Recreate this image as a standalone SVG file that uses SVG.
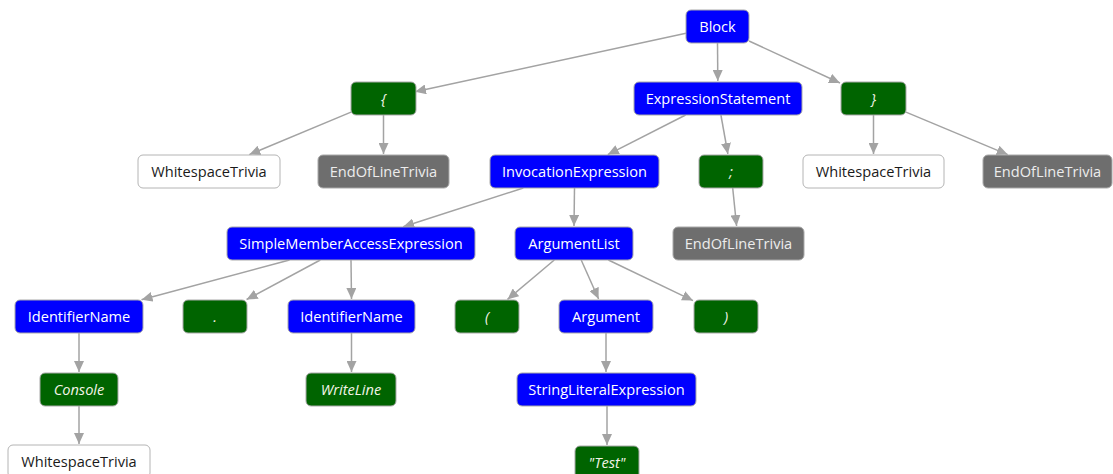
<svg xmlns="http://www.w3.org/2000/svg" width="1113" height="474" viewBox="0 0 1113 474">
<style>
.n rect{stroke:#a9a9a9;stroke-width:1}
.b rect{fill:#0000ff}
.g rect{fill:#006400}
.k rect{fill:#6e6e6e}
.w rect{fill:#ffffff;stroke:#b4b4b4}
text{font-family:"Open Sans","Noto Sans","Liberation Sans",sans-serif;font-size:14.6px;text-anchor:middle;fill:#ffffff}
.g text{font-style:italic;fill:#f4f4e8}
.k text{fill:#ececec}
.w text{fill:#1a1a1a}
#edges line{stroke:#a3a3a3;stroke-width:1.5;fill:none;marker-end:url(#ah)}
</style>
<defs>
<marker id="ah" markerUnits="userSpaceOnUse" markerWidth="12" markerHeight="10" refX="11" refY="5" orient="auto">
<path d="M0,0 L11,5 L0,10 Z" fill="#a3a3a3"/>
</marker>
</defs>
<rect width="1113" height="474" fill="#ffffff"/>
<g id="edges">
<line x1="686" y1="33.3" x2="415" y2="91.7"/>
<line x1="717.5" y1="43" x2="717.8" y2="81"/>
<line x1="749" y1="41" x2="840" y2="83"/>
<line x1="351" y1="112.1" x2="249.3" y2="154.6"/>
<line x1="383.5" y1="115" x2="383.5" y2="154"/>
<line x1="685.6" y1="115" x2="607.8" y2="154.6"/>
<line x1="720.9" y1="115" x2="727.9" y2="154"/>
<line x1="873.5" y1="115" x2="873.5" y2="154"/>
<line x1="906" y1="112.1" x2="1007.7" y2="154.6"/>
<line x1="523.3" y1="188" x2="403.2" y2="226.7"/>
<line x1="574.5" y1="188" x2="574" y2="226"/>
<line x1="732.7" y1="188" x2="736.6" y2="226"/>
<line x1="289.5" y1="260" x2="141.5" y2="299.7"/>
<line x1="320.3" y1="260" x2="246.6" y2="299.5"/>
<line x1="351" y1="260" x2="351.5" y2="299"/>
<line x1="554.3" y1="260" x2="507.5" y2="299.4"/>
<line x1="581.2" y1="260" x2="598.6" y2="299"/>
<line x1="608.4" y1="260" x2="693" y2="300.6"/>
<line x1="79" y1="333" x2="79" y2="372"/>
<line x1="351.5" y1="333" x2="351.5" y2="372"/>
<line x1="606" y1="333" x2="606" y2="372"/>
<line x1="79" y1="406" x2="79" y2="444"/>
<line x1="607" y1="406" x2="607" y2="445"/>
</g>
<g id="block" class="n b"><rect x="686" y="10" width="63" height="33" rx="5"/><text x="717.5" y="31.5">Block</text></g>
<g id="openBrace" class="n g"><rect x="351" y="82" width="65" height="33" rx="5"/><text x="383.5" y="103.5">{</text></g>
<g id="expressionStatement" class="n b"><rect x="634" y="82" width="168" height="33" rx="5"/><text x="718" y="103.5">ExpressionStatement</text></g>
<g id="closeBrace" class="n g"><rect x="841" y="82" width="65" height="33" rx="5"/><text x="873.5" y="103.5">}</text></g>
<g id="whitespace1" class="n w"><rect x="138" y="155" width="142" height="33" rx="5"/><text x="209" y="176.5">WhitespaceTrivia</text></g>
<g id="endOfLine1" class="n k"><rect x="318" y="155" width="131" height="33" rx="5"/><text x="383.5" y="176.5">EndOfLineTrivia</text></g>
<g id="invocationExpression" class="n b"><rect x="490" y="155" width="169" height="33" rx="5"/><text x="574.5" y="176.5">InvocationExpression</text></g>
<g id="semicolon" class="n g"><rect x="699" y="155" width="64" height="33" rx="5"/><text x="731" y="176.5">;</text></g>
<g id="whitespace2" class="n w"><rect x="803" y="155" width="141" height="33" rx="5"/><text x="873.5" y="176.5">WhitespaceTrivia</text></g>
<g id="endOfLine2" class="n k"><rect x="983" y="155" width="129" height="33" rx="5"/><text x="1047.5" y="176.5">EndOfLineTrivia</text></g>
<g id="simpleMemberAccess" class="n b"><rect x="227" y="227" width="248" height="33" rx="5"/><text x="351" y="248.5">SimpleMemberAccessExpression</text></g>
<g id="argumentList" class="n b"><rect x="515" y="227" width="118" height="33" rx="5"/><text x="574" y="248.5">ArgumentList</text></g>
<g id="endOfLine3" class="n k"><rect x="673" y="227" width="131" height="33" rx="5"/><text x="738.5" y="248.5">EndOfLineTrivia</text></g>
<g id="identifierName1" class="n b"><rect x="15" y="300" width="128" height="33" rx="5"/><text x="79" y="321.5">IdentifierName</text></g>
<g id="dot" class="n g"><rect x="183" y="300" width="64" height="33" rx="5"/><text x="215" y="321.5">.</text></g>
<g id="identifierName2" class="n b"><rect x="288" y="300" width="127" height="33" rx="5"/><text x="351.5" y="321.5">IdentifierName</text></g>
<g id="openParen" class="n g"><rect x="455" y="300" width="64" height="33" rx="5"/><text x="487" y="321.5">(</text></g>
<g id="argument" class="n b"><rect x="559" y="300" width="94" height="33" rx="5"/><text x="606" y="321.5">Argument</text></g>
<g id="closeParen" class="n g"><rect x="694" y="300" width="64" height="33" rx="5"/><text x="726" y="321.5">)</text></g>
<g id="console" class="n g"><rect x="40" y="373" width="78" height="33" rx="5"/><text x="79" y="394.5">Console</text></g>
<g id="writeLine" class="n g"><rect x="306" y="373" width="90" height="33" rx="5"/><text x="351" y="394.5">WriteLine</text></g>
<g id="stringLiteral" class="n b"><rect x="517" y="373" width="179" height="33" rx="5"/><text x="606.5" y="394.5">StringLiteralExpression</text></g>
<g id="whitespace3" class="n w"><rect x="8" y="445" width="142" height="33" rx="5"/><text x="79" y="466.5">WhitespaceTrivia</text></g>
<g id="testToken" class="n g"><rect x="575" y="446" width="64" height="33" rx="5"/><text x="607" y="467.5">"Test"</text></g>
</svg>
